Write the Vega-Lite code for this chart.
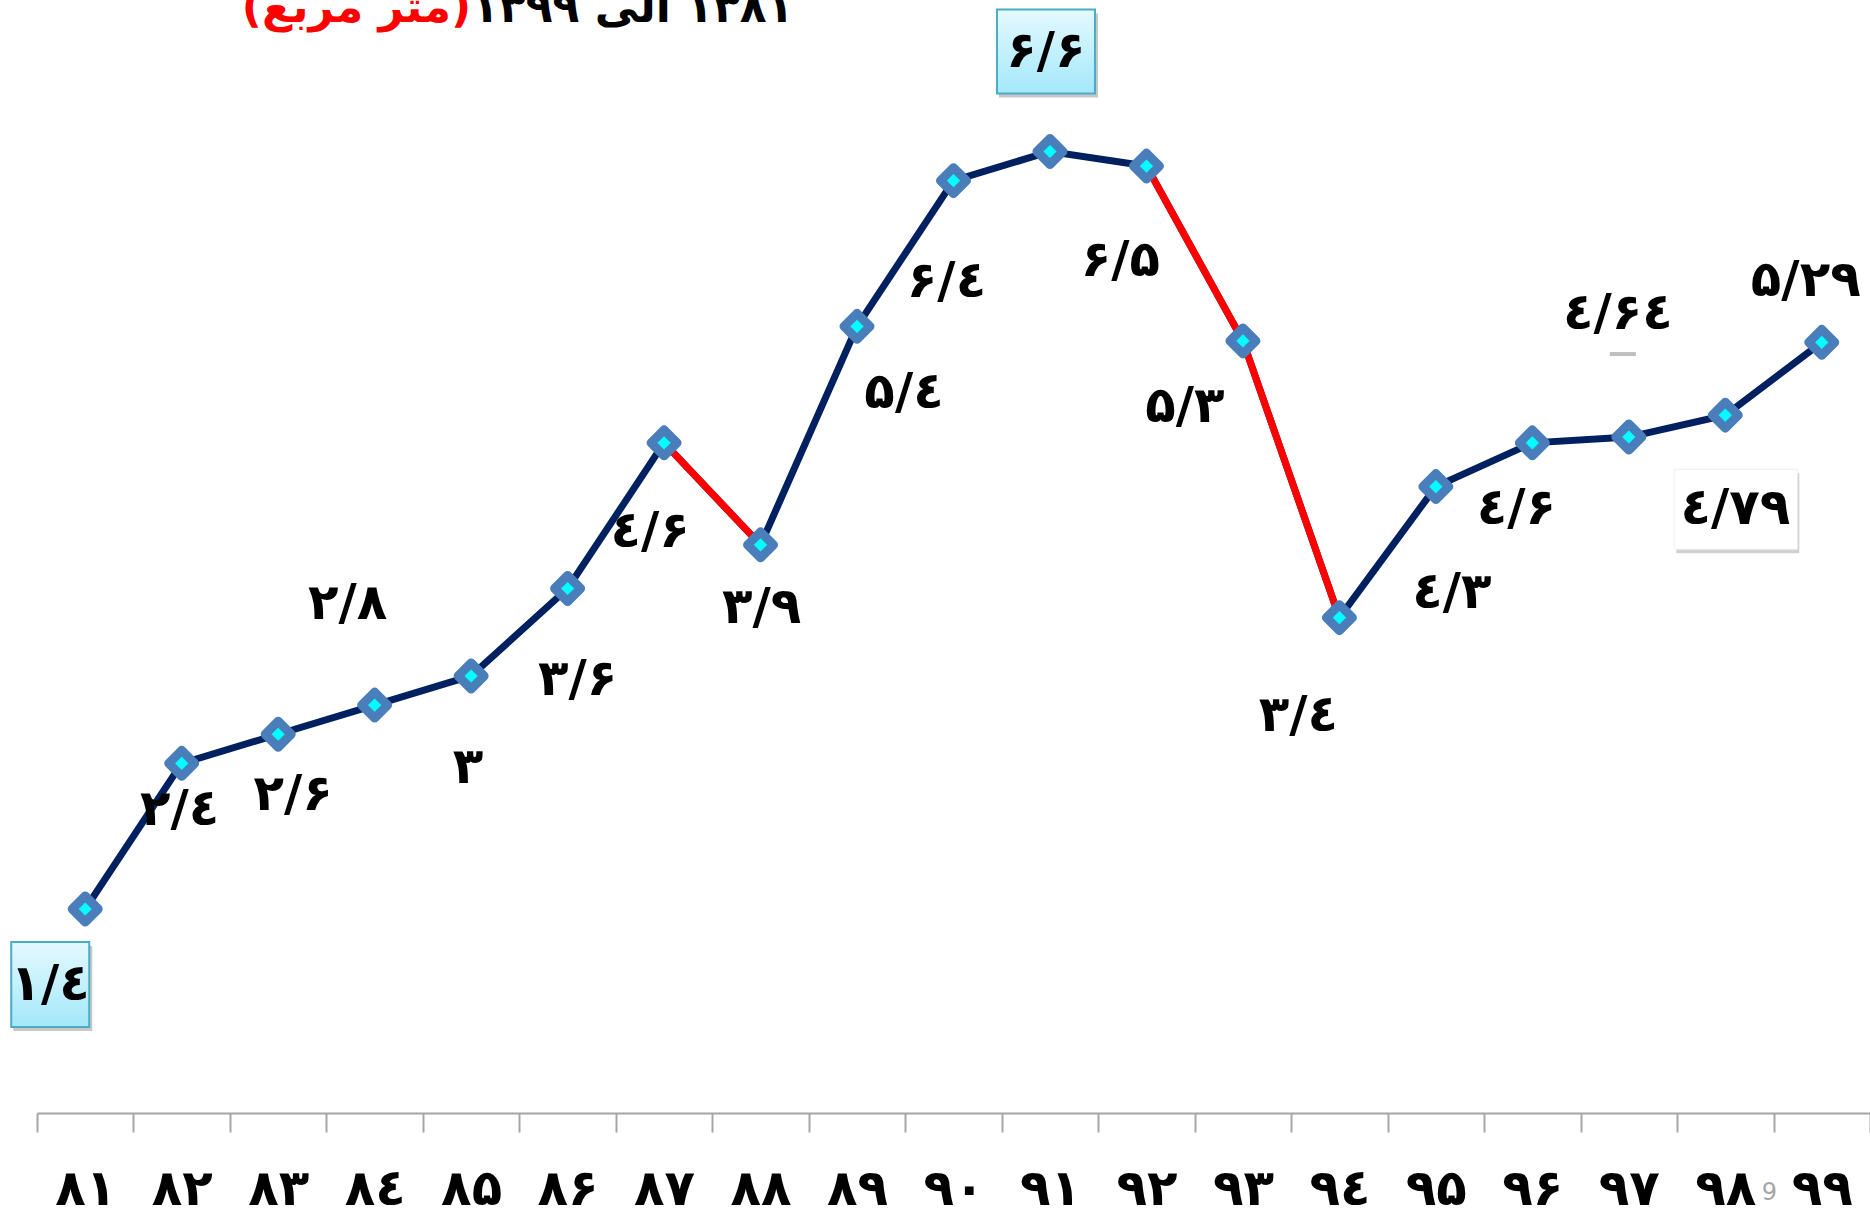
{
  "$schema": "https://vega.github.io/schema/vega-lite/v6.json",
  "width": 1833,
  "height": 1113,
  "autosize": {"type": "none"},
  "padding": {"left": 37, "top": 0, "right": 0, "bottom": 100},
  "background": "white",
  "config": {
    "view": {"stroke": null},
    "text": {"font": "DejaVu Sans", "fontWeight": "bold", "fontSize": 50, "color": "black", "align": "center", "baseline": "middle"}
  },
  "datasets": {
    "series": [
      {"year": "۸۱", "value": 1.4, "label": "۱/٤"},
      {"year": "۸۲", "value": 2.4, "label": "۲/٤"},
      {"year": "۸۳", "value": 2.6, "label": "۲/۶"},
      {"year": "۸٤", "value": 2.8, "label": "۲/۸"},
      {"year": "۸۵", "value": 3.0, "label": "۳"},
      {"year": "۸۶", "value": 3.6, "label": "۳/۶"},
      {"year": "۸۷", "value": 4.6, "label": "٤/۶"},
      {"year": "۸۸", "value": 3.9, "label": "۳/۹"},
      {"year": "۸۹", "value": 5.4, "label": "۵/٤"},
      {"year": "۹۰", "value": 6.4, "label": "۶/٤"},
      {"year": "۹۱", "value": 6.6, "label": "۶/۶"},
      {"year": "۹۲", "value": 6.5, "label": "۶/۵"},
      {"year": "۹۳", "value": 5.3, "label": "۵/۳"},
      {"year": "۹٤", "value": 3.4, "label": "۳/٤"},
      {"year": "۹۵", "value": 4.3, "label": "٤/۳"},
      {"year": "۹۶", "value": 4.6, "label": "٤/۶"},
      {"year": "۹۷", "value": 4.64, "label": "٤/۶٤"},
      {"year": "۹۸", "value": 4.79, "label": "٤/۷۹"},
      {"year": "۹۹", "value": 5.29, "label": "۵/۲۹"}
    ]
  },
  "layer": [
    {
      "data": {"name": "series"},
      "encoding": {
        "x": {
          "field": "year",
          "type": "nominal",
          "scale": {"type": "band", "domain": ["۸۱","۸۲","۸۳","۸٤","۸۵","۸۶","۸۷","۸۸","۸۹","۹۰","۹۱","۹۲","۹۳","۹٤","۹۵","۹۶","۹۷","۹۸","۹۹"], "paddingInner": 0, "paddingOuter": 0},
          "axis": {
            "title": null, "labelAngle": 0, "labelFont": "DejaVu Sans", "labelFontWeight": "bold", "labelFontSize": 50,
            "labelColor": "black", "labelPadding": 57, "labelBaseline": "middle", "labelOverlap": false,
            "domainColor": "#a6a6a6", "domainWidth": 2, "tickColor": "#a6a6a6", "tickWidth": 2, "tickSize": 19,
            "tickBand": "extent", "grid": false
          }
        },
        "y": {"field": "value", "type": "quantitative", "scale": {"domain": [0, 7.64], "nice": false, "zero": false}, "axis": null}
      },
      "layer": [
        {"mark": {"type": "line", "color": "#002060", "strokeWidth": 7}, "encoding": {"order": {"value": null}}},
        {"transform": [{"filter": "datum.year == '۸۷' || datum.year == '۸۸'"}], "mark": {"type": "line", "color": "#ff0000", "strokeWidth": 7}, "encoding": {"order": {"value": null}}},
        {"transform": [{"filter": "datum.year == '۹۲' || datum.year == '۹۳' || datum.year == '۹٤'"}], "mark": {"type": "line", "color": "#ff0000", "strokeWidth": 7}, "encoding": {"order": {"value": null}}},
        {"mark": {"type": "point", "shape": "diamond", "size": 676, "filled": true, "fill": "#00ffff", "stroke": "#4a7ebb", "strokeWidth": 9, "strokeJoin": "round", "opacity": 1}},

        {"transform": [{"filter": "datum.year == '۸۱'"}], "mark": {"type": "point", "shape": "M-72,37H7V122H-72Z", "size": 4, "filled": true, "fill": "#000000", "opacity": 0.22}},
        {"transform": [{"filter": "datum.year == '۸۱'"}], "mark": {"type": "point", "shape": "M-74,33H4V118H-74Z", "size": 4, "filled": true, "opacity": 1, "stroke": "#4bacc6", "strokeWidth": 2,
          "fill": {"gradient": "linear", "x1": 0, "y1": 0, "x2": 0, "y2": 1, "stops": [{"offset": 0, "color": "#e4f9ff"}, {"offset": 1, "color": "#a4e8fa"}]}}},
        {"transform": [{"filter": "datum.year == '۹۱'"}], "mark": {"type": "point", "shape": "M-51,-138H48V-54H-51Z", "size": 4, "filled": true, "fill": "#000000", "opacity": 0.22}},
        {"transform": [{"filter": "datum.year == '۹۱'"}], "mark": {"type": "point", "shape": "M-53,-142H45V-58H-53Z", "size": 4, "filled": true, "opacity": 1, "stroke": "#4bacc6", "strokeWidth": 2,
          "fill": {"gradient": "linear", "x1": 0, "y1": 0, "x2": 0, "y2": 1, "stops": [{"offset": 0, "color": "#e4f9ff"}, {"offset": 1, "color": "#a4e8fa"}]}}},
        {"transform": [{"filter": "datum.year == '۹۸'"}], "mark": {"type": "point", "shape": "M-49,58H74V138H-49Z", "size": 4, "filled": true, "fill": "#000000", "opacity": 0.18}},
        {"transform": [{"filter": "datum.year == '۹۸'"}], "mark": {"type": "point", "shape": "M-51,54H72V134H-51Z", "size": 4, "filled": true, "fill": "#ffffff", "stroke": "#f0f0f0", "strokeWidth": 1, "opacity": 1}},
        {"transform": [{"filter": "datum.year == '۹۷'"}], "mark": {"type": "point", "shape": "M-19,-85H7V-81H-19Z", "size": 4, "filled": true, "fill": "#808080", "opacity": 0.5}},

        {"transform": [{"filter": "datum.year == '۸۱'"}], "mark": {"type": "text", "dx": -35, "dy": 76}, "encoding": {"text": {"field": "label"}}},
        {"transform": [{"filter": "datum.year == '۸۲'"}], "mark": {"type": "text", "dx": -2, "dy": 47}, "encoding": {"text": {"field": "label"}}},
        {"transform": [{"filter": "datum.year == '۸۳'"}], "mark": {"type": "text", "dx": 15, "dy": 61}, "encoding": {"text": {"field": "label"}}},
        {"transform": [{"filter": "datum.year == '۸٤'"}], "mark": {"type": "text", "dx": -27, "dy": -101}, "encoding": {"text": {"field": "label"}}},
        {"transform": [{"filter": "datum.year == '۸۵'"}], "mark": {"type": "text", "dx": -3, "dy": 92}, "encoding": {"text": {"field": "label"}}},
        {"transform": [{"filter": "datum.year == '۸۶'"}], "mark": {"type": "text", "dx": 10, "dy": 91}, "encoding": {"text": {"field": "label"}}},
        {"transform": [{"filter": "datum.year == '۸۷'"}], "mark": {"type": "text", "dx": -14, "dy": 89}, "encoding": {"text": {"field": "label"}}},
        {"transform": [{"filter": "datum.year == '۸۸'"}], "mark": {"type": "text", "dx": 1, "dy": 63}, "encoding": {"text": {"field": "label"}}},
        {"transform": [{"filter": "datum.year == '۸۹'"}], "mark": {"type": "text", "dx": 47, "dy": 67}, "encoding": {"text": {"field": "label"}}},
        {"transform": [{"filter": "datum.year == '۹۰'"}], "mark": {"type": "text", "dx": -7, "dy": 101}, "encoding": {"text": {"field": "label"}}},
        {"transform": [{"filter": "datum.year == '۹۱'"}], "mark": {"type": "text", "dx": -4, "dy": -100}, "encoding": {"text": {"field": "label"}}},
        {"transform": [{"filter": "datum.year == '۹۲'"}], "mark": {"type": "text", "dx": -26, "dy": 95}, "encoding": {"text": {"field": "label"}}},
        {"transform": [{"filter": "datum.year == '۹۳'"}], "mark": {"type": "text", "dx": -58, "dy": 66}, "encoding": {"text": {"field": "label"}}},
        {"transform": [{"filter": "datum.year == '۹٤'"}], "mark": {"type": "text", "dx": -41, "dy": 98}, "encoding": {"text": {"field": "label"}}},
        {"transform": [{"filter": "datum.year == '۹۵'"}], "mark": {"type": "text", "dx": 16, "dy": 106}, "encoding": {"text": {"field": "label"}}},
        {"transform": [{"filter": "datum.year == '۹۶'"}], "mark": {"type": "text", "dx": -16, "dy": 66}, "encoding": {"text": {"field": "label"}}},
        {"transform": [{"filter": "datum.year == '۹۷'"}], "mark": {"type": "text", "dx": -11, "dy": -123}, "encoding": {"text": {"field": "label"}}},
        {"transform": [{"filter": "datum.year == '۹۸'"}], "mark": {"type": "text", "dx": 10, "dy": 94}, "encoding": {"text": {"field": "label"}}},
        {"transform": [{"filter": "datum.year == '۹۹'"}], "mark": {"type": "text", "dx": -16, "dy": -61}, "encoding": {"text": {"field": "label"}}}
      ]
    },
    {
      "data": {"values": [{"t": "(متر مربع)"}]},
      "mark": {"type": "text", "align": "right", "baseline": "alphabetic", "fontSize": 44, "color": "#ff0000"},
      "encoding": {
        "x": {"datum": "۸۵", "type": "nominal"},
        "y": {"datum": 7.49, "type": "quantitative", "scale": {"domain": [0, 7.64], "nice": false, "zero": false}},
        "text": {"field": "t"}
      }
    },
    {
      "data": {"values": [{"t": "‫۱۳۸۱ الی ۱۳۹۹‬"}]},
      "mark": {"type": "text", "align": "right", "baseline": "alphabetic", "fontSize": 44, "color": "#000000", "dx": 33},
      "encoding": {
        "x": {"datum": "۸۸", "type": "nominal"},
        "y": {"datum": 7.49, "type": "quantitative", "scale": {"domain": [0, 7.64], "nice": false, "zero": false}},
        "text": {"field": "t"}
      }
    },
    {
      "data": {"values": [{"t": "9"}]},
      "mark": {"type": "text", "fontSize": 24, "fontWeight": "normal", "color": "#a6a6a6", "dx": 44},
      "encoding": {
        "x": {"datum": "۹۸", "type": "nominal"},
        "y": {"datum": -0.55, "type": "quantitative", "scale": {"domain": [0, 7.64], "nice": false, "zero": false}},
        "text": {"field": "t"}
      }
    }
  ]
}
